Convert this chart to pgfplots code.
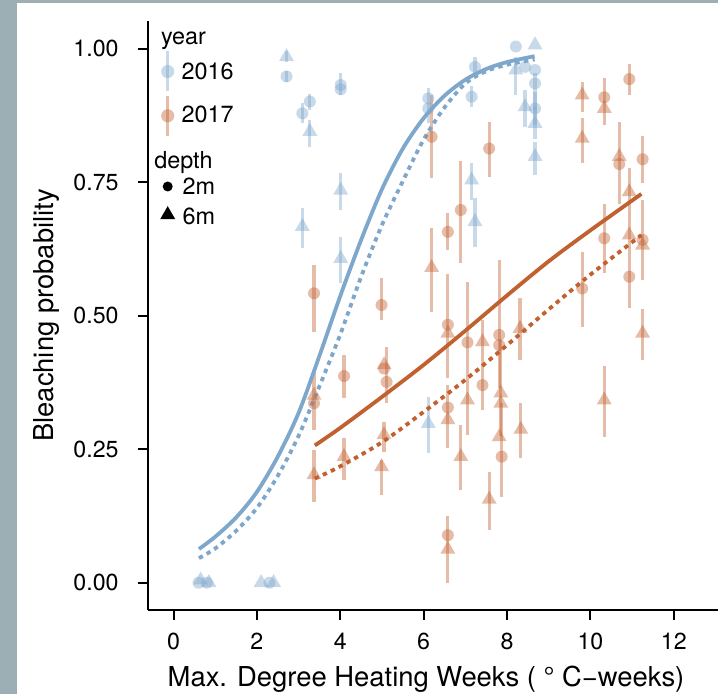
\documentclass[border=0pt]{standalone}
\usepackage{fontspec}
\setmainfont{TeX Gyre Heros}
\usepackage{pgfplots}
\pgfplotsset{compat=1.18}
\usepackage{pgfplotstable}
\definecolor{cblue}{RGB}{126,167,204}
\definecolor{corange}{RGB}{194,97,48}
\definecolor{framec}{RGB}{155,175,181}
\newcommand{\lf}{\fontsize{11.7}{14}\selectfont}
\newcommand{\af}{\fontsize{13.7}{16}\selectfont}
\newcommand{\tf}{\fontsize{11.6}{13.5}\selectfont}

\pgfplotstableread{
x y ep em
0.60 0.000 0 0
0.80 0.000 0 0
2.30 0.000 0 0
2.71 0.948 0.010 0.010
4.01 0.932 0.022 0.019
4.01 0.924 0 0
3.27 0.901 0.015 0.015
3.09 0.879 0.019 0.018
6.11 0.907 0.019 0.047
6.11 0.888 0 0
7.23 0.966 0.019 0.018
7.15 0.910 0.020 0.020
8.21 1.004 0 0
8.43 0.966 0 0
8.67 0.960 0 0
8.67 0.935 0.019 0.050
8.67 0.888 0.030 0.030
}\bluecirc

\pgfplotstableread{
x y ep em
0.65 0.005 0 0
0.85 0.000 0 0
2.10 0.000 0 0
2.40 0.000 0 0
2.71 0.985 0.010 0.010
3.27 0.845 0.021 0.029
4.01 0.735 0.032 0.037
3.09 0.667 0.035 0.040
4.01 0.607 0.041 0.046
8.21 0.960 0.025 0.047
8.67 1.007 0 0
8.43 0.891 0.031 0.037
8.67 0.860 0.030 0.030
8.67 0.798 0.028 0.035
7.15 0.754 0.032 0.038
7.23 0.676 0.044 0.047
6.11 0.298 0.050 0.056
}\bluetri

\pgfplotstableread{
x y ep em
3.37 0.542 0.053 0.072
3.37 0.336 0 0
4.09 0.387 0.039 0.042
4.99 0.520 0.051 0.028
5.05 0.401 0 0
5.11 0.376 0.066 0.040
6.19 0.835 0.078 0.078
6.58 0.657 0.035 0.034
6.89 0.698 0.092 0.100
7.57 0.813 0.050 0.053
6.58 0.483 0.096 0.100
6.58 0.328 0.042 0.076
6.58 0.089 0.035 0.090
7.05 0.450 0.114 0.174
7.41 0.370 0.122 0.047
7.81 0.464 0.140 0.100
7.81 0.445 0 0
7.87 0.236 0.100 0.075
9.80 0.551 0.069 0.072
10.33 0.909 0.036 0.052
10.93 0.943 0.028 0.030
10.69 0.784 0.079 0.074
11.25 0.793 0.043 0.044
10.93 0.573 0 0
10.33 0.645 0.064 0.065
11.25 0.642 0.074 0.075
}\orangecirc

\pgfplotstableread{
x y ep em
3.37 0.351 0.044 0.065
3.37 0.202 0.046 0.050
4.09 0.236 0.035 0.044
5.05 0.408 0 0
5.05 0.277 0.024 0.032
4.99 0.217 0.013 0.053
6.19 0.590 0.074 0.083
6.58 0.467 0 0
6.58 0.305 0 0
6.58 0.0625 0 0
7.05 0.342 0 0
6.89 0.236 0.059 0.063
7.41 0.451 0 0
7.85 0.355 0.100 0.080
7.85 0.336 0 0
7.81 0.273 0 0
8.31 0.476 0.057 0.059
8.33 0.287 0.050 0.053
7.57 0.156 0.052 0.057
9.80 0.913 0.025 0.031
9.80 0.832 0.038 0.046
10.33 0.888 0 0
10.69 0.798 0 0
10.93 0.732 0.044 0.218
10.93 0.651 0 0
11.25 0.632 0 0
11.25 0.467 0.046 0.050
10.33 0.342 0.064 0.069
}\orangetri

\begin{document}
\begin{tikzpicture}
\path[use as bounding box] (0,0) rectangle (359pt,347pt);
\fill[white] (0,0) rectangle (359pt,347pt);
\fill[framec] (0,0) rectangle (8.65pt,347pt);
\fill[framec] (0,345.35pt) rectangle (359pt,347pt);
\begin{axis}[
  at={(73.85pt,42pt)}, anchor=south west,
  scale only axis, width=285.15pt, height=294.5pt,
  xmin=-0.619, xmax=13.058, ymin=-0.0511, ymax=1.0519,
  axis x line=bottom, axis y line=left,
  axis line style={-, line width=1pt},
  every outer x axis line/.append style={-},
  every outer y axis line/.append style={-},
  xtick={0,2,4,6,8,10,12},
  ytick={0,0.25,0.5,0.75,1},
  yticklabels={0.00,0.25,0.50,0.75,1.00},
  tick align=outside, major tick length=5pt,
  tick style={line width=1pt, black},
  /pgf/number format/assume math mode=true,
  xticklabel style={anchor=north, inner sep=0pt, yshift=-6.5pt, font=\tf},
  yticklabel style={anchor=east, inner sep=0pt, xshift=-9.35pt, font=\tf},
  xlabel={Max. Degree Heating Weeks ( ° C−weeks)},
  xlabel style={at={(axis description cs:0.488,0)}, anchor=base, yshift=-38.25pt, inner sep=0pt, font=\af},
  ylabel={Bleaching probability},
  ylabel style={at={(axis description cs:-0.166,0.5)}, anchor=base, inner sep=0pt, font=\af},
  legend style={at={(axis cs:-0.5636,1.0444)}, anchor=north west, draw=none, draw opacity=0, fill=none,
    inner sep=0pt, outer sep=0pt, nodes={inner sep=0pt, outer sep=0pt}, column sep=0pt},
  every axis legend/.append style={draw=none, fill=none},
]
\addlegendimage{legend image code/.code={
  \path[draw=none, fill=none] (0pt,0pt) rectangle (60pt,-102pt);
  \node[anchor=base west, inner sep=0pt, font=\lf, black, draw=none] at (5.5pt,-9pt) {year};
  \fill[cblue, opacity=0.42, draw=none] (8.1pt,-12.5pt) rectangle (9.6pt,-32.5pt);
  \fill[cblue, opacity=0.42, draw=none] (8.85pt,-22.5pt) circle (3.3pt);
  \node[anchor=base west, inner sep=0pt, font=\lf, black, draw=none] at (15.85pt,-26.5pt) {2016};
  \fill[corange, opacity=0.42, draw=none] (8.1pt,-35pt) rectangle (9.6pt,-55pt);
  \fill[corange, opacity=0.42, draw=none] (8.85pt,-44.65pt) circle (3.3pt);
  \node[anchor=base west, inner sep=0pt, font=\lf, black, draw=none] at (15.85pt,-47.85pt) {2017};
  \node[anchor=base west, inner sep=0pt, font=\lf, black, draw=none] at (2.15pt,-70.85pt) {depth};
  \fill[black, draw=none] (8.85pt,-80pt) circle (2.5pt);
  \node[anchor=base west, inner sep=0pt, font=\lf, black, draw=none] at (16.35pt,-83.85pt) {2m};
  \fill[black, draw=none] (5.1pt,-96.32pt) -- (12.6pt,-96.32pt) -- (8.85pt,-89.82pt) -- cycle;
  \node[anchor=base west, inner sep=0pt, font=\lf, black, draw=none] at (16.35pt,-98.85pt) {6m};
}}
\addlegendentry{}

\addplot[forget plot, cblue, only marks, mark=*, mark size=3pt, mark options={fill=cblue, draw opacity=0, fill opacity=0.42},
  error bars/.cd, y dir=both, y explicit, error mark=none,
  error bar style={line width=1.6pt, cblue, opacity=0.42}]
  table[x=x, y=y, y error plus=ep, y error minus=em] {\bluecirc};
\addplot[forget plot, cblue, only marks, mark=triangle*, mark size=4.3pt, mark options={fill=cblue, draw opacity=0, fill opacity=0.42},
  error bars/.cd, y dir=both, y explicit, error mark=none,
  error bar style={line width=1.6pt, cblue, opacity=0.42}]
  table[x=x, y=y, y error plus=ep, y error minus=em] {\bluetri};
\addplot[forget plot, corange, only marks, mark=*, mark size=3pt, mark options={fill=corange, draw opacity=0, fill opacity=0.42},
  error bars/.cd, y dir=both, y explicit, error mark=none,
  error bar style={line width=1.6pt, corange, opacity=0.42}]
  table[x=x, y=y, y error plus=ep, y error minus=em] {\orangecirc};
\addplot[forget plot, corange, only marks, mark=triangle*, mark size=4.3pt, mark options={fill=corange, draw opacity=0, fill opacity=0.42},
  error bars/.cd, y dir=both, y explicit, error mark=none,
  error bar style={line width=1.6pt, corange, opacity=0.42}]
  table[x=x, y=y, y error plus=ep, y error minus=em] {\orangetri};

\addplot[forget plot, cblue, line width=1.9pt, smooth, no markers] coordinates {
(0.61,0.063) (1.0,0.086) (1.5,0.122) (2.0,0.170) (2.5,0.236) (3.0,0.318) (3.5,0.425) (4.0,0.537) (4.5,0.642) (5.0,0.737) (5.5,0.813) (6.0,0.870) (6.5,0.912) (7.0,0.942) (7.5,0.962) (8.0,0.975) (8.66,0.986)};
\addplot[forget plot, cblue, line width=1.9pt, smooth, no markers, dash pattern=on 2.2pt off 2.2pt] coordinates {
(0.61,0.046) (1.0,0.064) (1.5,0.097) (2.0,0.140) (2.5,0.200) (3.0,0.275) (3.5,0.368) (4.0,0.465) (4.5,0.573) (5.0,0.670) (5.5,0.752) (6.0,0.830) (6.5,0.890) (7.0,0.935) (7.5,0.958) (8.0,0.970) (8.66,0.980)};
\addplot[forget plot, corange, line width=1.9pt, smooth, no markers] coordinates {
(3.39,0.257) (4,0.290) (5,0.348) (6,0.408) (7,0.472) (8,0.538) (9,0.602) (10,0.660) (11.22,0.728)};
\addplot[forget plot, corange, line width=1.9pt, smooth, no markers, dash pattern=on 2.2pt off 2.2pt] coordinates {
(3.39,0.195) (4,0.218) (5,0.263) (6,0.320) (7,0.380) (8,0.445) (9,0.512) (10,0.577) (11.22,0.651)};
\end{axis}
\end{tikzpicture}
\end{document}
